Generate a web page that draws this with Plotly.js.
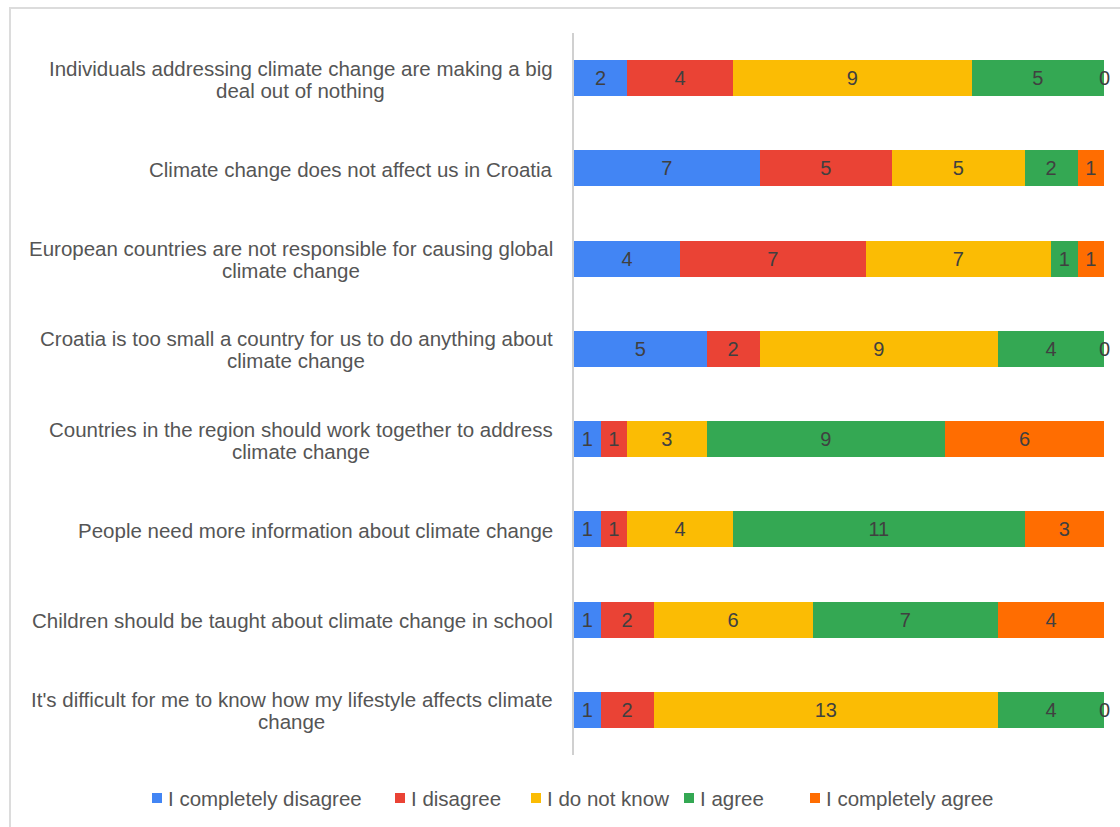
<!DOCTYPE html>
<html>
<head>
<meta charset="utf-8">
<script src="https://cdn.plot.ly/plotly-3.0.1.min.js"></script>
<style>
html,body{margin:0;padding:0;background:#fff;}
#frame{position:absolute;left:9px;top:7px;width:1200px;height:900px;border-left:2px solid #dcdcdc;border-top:2px solid #dcdcdc;}
#chart{position:absolute;left:0;top:0;width:1120px;height:827px;}
</style>
</head>
<body>
<div id="frame"></div>
<div id="chart"></div>
<script>
const categories = [
  "Individuals addressing climate change are making a big<br>deal out of nothing",
  "Climate change does not affect us in Croatia",
  "European countries are not responsible for causing global<br>climate change",
  "Croatia is too small a country for us to do anything about<br>climate change",
  "Countries in the region should work together to address<br>climate change",
  "People need more information about climate change",
  "Children should be taught about climate change in school",
  "It's difficult for me to know how my lifestyle affects climate<br>change"
];
const seriesNames = ["I completely disagree", "I disagree", "I do not know", "I agree", "I completely agree"];
const completelyDisagree = [2, 7, 4, 5, 1, 1, 1, 1];
const disagree           = [4, 5, 7, 2, 1, 1, 2, 2];
const doNotKnow          = [9, 5, 7, 9, 3, 4, 6, 13];
const agree              = [5, 2, 1, 4, 9, 11, 7, 4];
const completelyAgree    = [0, 1, 1, 0, 6, 3, 4, 0];
const colors = ["#4285F4", "#EA4335", "#FBBC04", "#34A853", "#FF6D01"];

const allSeries = [completelyDisagree, disagree, doNotKnow, agree, completelyAgree];
const textColor = "#404040";
const labelColor = "#555555";
const fontFam = "Liberation Sans, Arial, sans-serif";
const FS = 20.5;

// plot area in pixels (for layout placement of the custom legend)
const W = 1120, H = 827;
const M = {l: 574, r: 16, t: 33, b: 72};
const plotW = W - M.l - M.r, plotH = H - M.t - M.b;
const px2paperX = p => (p - M.l) / plotW;
const px2paperY = p => (H - M.b - p) / plotH;

const traces = allSeries.map((vals, i) => ({
  type: "bar",
  orientation: "h",
  name: seriesNames[i],
  y: categories,
  x: vals,
  marker: {color: colors[i]},
  text: vals.map(v => v === 0 ? "" : String(v)),
  textposition: "inside",
  insidetextanchor: "middle",
  textfont: {color: textColor, size: 20, family: fontFam},
  hoverinfo: "none",
  showlegend: false
}));

const annotations = [];
const shapes = [];
// category labels, one annotation per line for tight line spacing
const lineGap = 22;
categories.forEach(c => {
  const lines = c.split("<br>");
  const n = lines.length;
  lines.forEach((ln, k) => {
    annotations.push({
      x: -0.036, xref: "paper", y: c, yref: "y",
      yshift: ((n - 1) / 2 - k) * lineGap - 1,
      text: ln, showarrow: false, xanchor: "right", yanchor: "middle", align: "center",
      width: null,
      font: {size: FS, color: labelColor, family: fontFam}
    });
  });
});
// center second lines under first line: compute using a wrapper annotation approach
// (handled after render below)

// zero-value labels at the stack position
categories.forEach((c, j) => {
  let cum = 0;
  allSeries.forEach((vals, i) => {
    if (vals[j] === 0) {
      annotations.push({
        x: cum, xref: "x", y: c, yref: "y", text: "0", showarrow: false,
        xanchor: "center", yanchor: "middle",
        font: {size: 20, color: textColor, family: fontFam}
      });
    }
    cum += vals[j];
  });
});

// custom legend
const legendLeft = [152, 395, 531, 684, 810];
const legendY = 798;
seriesNames.forEach((nm, i) => {
  shapes.push({
    type: "rect", xref: "paper", yref: "paper",
    x0: px2paperX(legendLeft[i]), x1: px2paperX(legendLeft[i] + 10),
    y0: px2paperY(legendY + 5), y1: px2paperY(legendY - 5),
    fillcolor: colors[i], line: {width: 0}
  });
  annotations.push({
    x: px2paperX(legendLeft[i] + 14), xref: "paper",
    y: px2paperY(legendY), yref: "paper",
    text: nm, showarrow: false, xanchor: "left", yanchor: "middle",
    font: {size: FS, color: labelColor, family: fontFam}
  });
});

const layout = {
  width: W, height: H,
  margin: M,
  barmode: "stack",
  bargap: 0.6,
  paper_bgcolor: "rgba(0,0,0,0)",
  plot_bgcolor: "rgba(0,0,0,0)",
  font: {family: fontFam, color: labelColor, size: FS},
  xaxis: {range: [0, 20], showticklabels: false, showgrid: false, zeroline: false, showline: false, ticks: "", fixedrange: true},
  yaxis: {autorange: "reversed", showticklabels: false, showgrid: false, zeroline: false,
          showline: true, linecolor: "#d0d0d0", linewidth: 2, ticks: "", fixedrange: true},
  showlegend: false,
  annotations: annotations,
  shapes: shapes
};

Plotly.newPlot("chart", traces, layout, {displayModeBar: false, staticPlot: true}).then(gd => {
  // center continuation lines under the first line of each category label
  const upd = {};
  let idx = 0;
  const texts = gd.querySelectorAll(".annotation");
  categories.forEach(c => {
    const lines = c.split("<br>");
    if (lines.length > 1) {
      const firstW = texts[idx].getBBox().width;
      for (let k = 1; k < lines.length; k++) {
        const w = texts[idx + k].getBBox().width;
        upd["annotations[" + (idx + k) + "].xshift"] = -(firstW - w) / 2;
      }
    }
    idx += lines.length;
  });
  return Plotly.relayout(gd, upd);
});
</script>
</body>
</html>
